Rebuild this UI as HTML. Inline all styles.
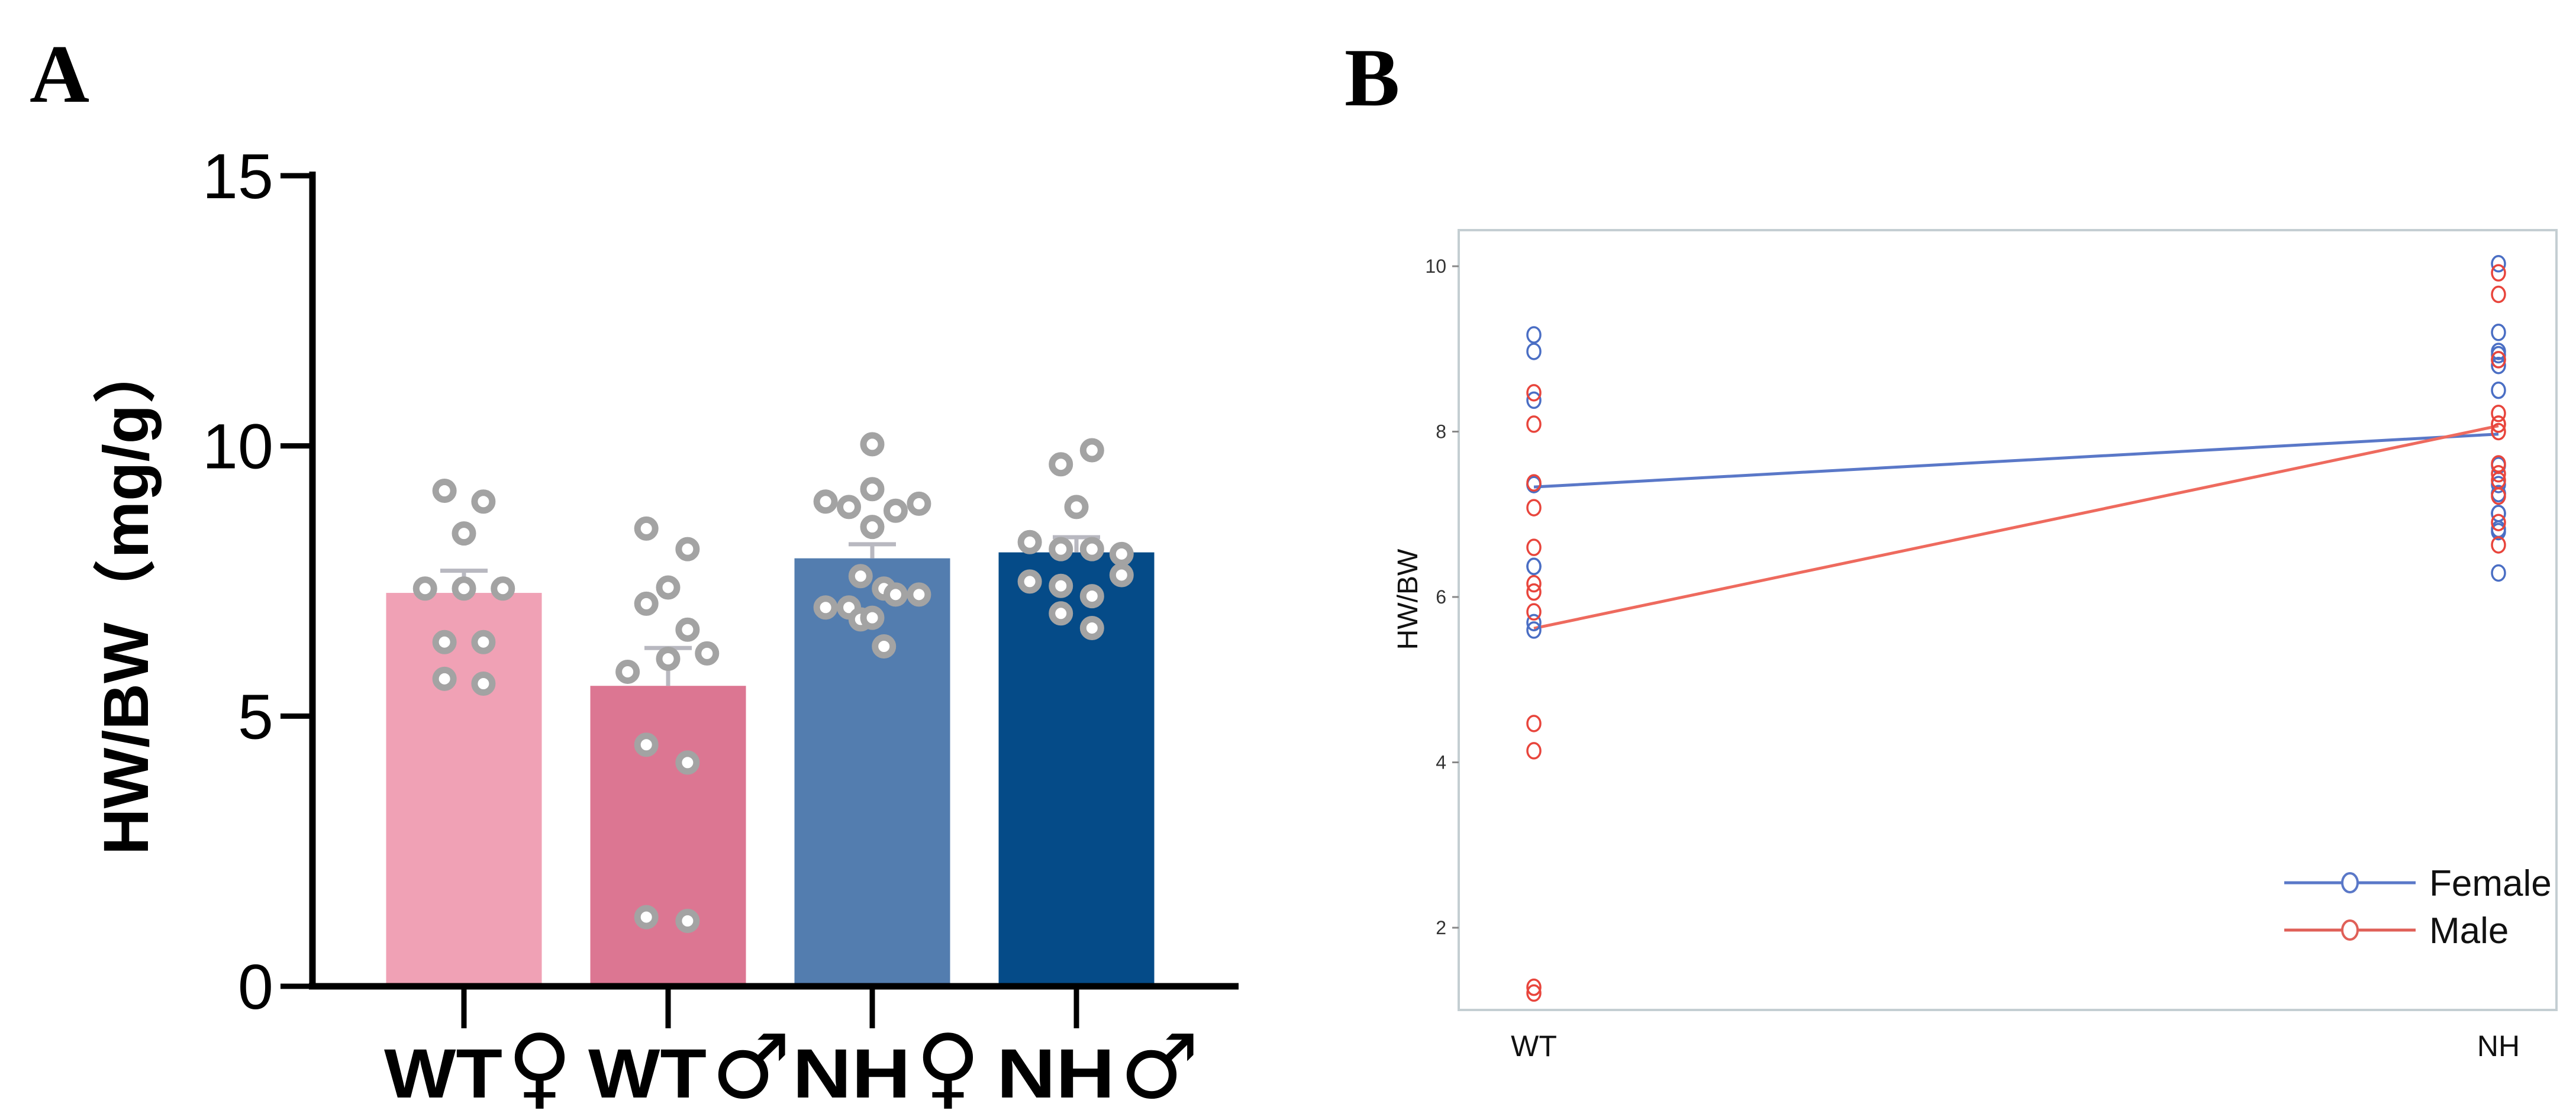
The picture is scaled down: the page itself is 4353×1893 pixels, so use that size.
<!DOCTYPE html>
<html><head><meta charset="utf-8"><style>html,body{margin:0;padding:0;background:#fff}svg{display:block}</style></head>
<body>
<svg id="fig" width="4353" height="1893" viewBox="0 0 4353 1893" xmlns="http://www.w3.org/2000/svg">
<text x="50" y="172" font-family="Liberation Serif, serif" font-weight="bold" font-size="140">A</text>
<text x="2272" y="178" font-family="Liberation Serif, serif" font-weight="bold" font-size="140">B</text>
<g id="pa"></g>
<g id="pb"></g>
</svg>
<script>
const barCats = ["WT","WT","NH","NH"];
const barSex = ["♀","♂","♀","♂"];
const barMeans = [7.28, 5.56, 7.92, 8.03];
const barSem = [0.41, 0.70, 0.26, 0.28];
const yTicksA = [0,5,10,15];
const dotsWTF = [9.17,8.97,8.38,7.36,7.36,7.36,6.37,6.37,5.69,5.6];
const dotsWTM = [8.47,8.09,7.38,7.08,6.6,5.82,6.16,6.06,4.47,4.14,1.28,1.21];
const dotsNHF = [10.03,9.2,8.97,8.87,8.8,8.93,8.5,7.59,7.36,7.25,7.25,7.01,7.01,6.79,6.82,6.29];
const dotsNHM = [9.92,9.66,8.87,8.22,8.09,8.09,8.0,7.61,7.49,7.41,7.22,6.9,6.63];
// horizontal jitter (fraction of bar half-width) – layout, not data
const jit = [
 [-0.25,0.25,0,-0.5,0,0.5,-0.25,0.25,-0.25,0.25],
 [-0.28,0.25,0,-0.28,0.25,-0.52,0.5,0,-0.28,0.25,-0.28,0.25],
 [0,0,-0.6,-0.3,0.3,0.6,0,-0.15,0.15,0.3,0.6,-0.6,-0.3,-0.15,0,0.15],
 [0.2,-0.2,0,-0.6,-0.2,0.2,0.58,0.58,-0.6,-0.2,0.2,-0.2,0.2]
];
const allDots = [dotsWTF, dotsWTM, dotsNHF, dotsNHM];
const barColors = ["#f0a1b5","#dc7692","#537daf","#054b88"];

const NS="http://www.w3.org/2000/svg";
function mk(parent, tag, attrs, txt){const e=document.createElementNS(NS,tag);for(const k in attrs)e.setAttribute(k,attrs[k]);if(txt!==undefined)e.textContent=txt;parent.appendChild(e);return e;}

// Panel A
const pa=document.getElementById('pa');
const ay=v=>1667-(v/15)*(1667-297);
const ax=i=>784+i*345;
const bw=263;
barCats.forEach((c,i)=>{
  const r=mk(pa,'rect',{x:ax(i)-bw/2,y:ay(barMeans[i]),width:bw,height:ay(0)-ay(barMeans[i]),fill:barColors[i]});
  
  
  const e=mk(pa,'path',{d:`M${ax(i)} ${ay(barMeans[i])}V${ay(barMeans[i]+barSem[i])}M${ax(i)-40} ${ay(barMeans[i]+barSem[i])}H${ax(i)+40}`,stroke:'#b8b8c0','stroke-width':7,fill:'none'});
  
  
});
allDots.forEach((arr,i)=>{
  arr.forEach((v,j)=>{
    const d=mk(pa,'circle',{cx:ax(i)+jit[i][j]*bw/2,cy:ay(v),r:15,fill:'#fff',stroke:'#a3a3a3','stroke-width':11});
    
    
  });
});
mk(pa,'path',{d:'M528 290V1672M522 1667H2093',stroke:'#000','stroke-width':11,fill:'none'});
yTicksA.forEach(t=>{
  mk(pa,'line',{x1:474,x2:528,y1:ay(t),y2:ay(t),stroke:'#000','stroke-width':9});
  const l=mk(pa,'text',{x:462,y:ay(t)+38,'text-anchor':'end','font-family':'Liberation Sans, sans-serif','font-size':108},t);
  
  
});
barCats.forEach((c,i)=>{
  mk(pa,'line',{x1:ax(i),x2:ax(i),y1:1667,y2:1738,stroke:'#000','stroke-width':9});
  const l=mk(pa,'text',{x:ax(i)-135,y:1855,'font-family':'Liberation Sans, DejaVu Sans, sans-serif','font-weight':'bold','font-size':118});
  
  
  mk(l,'tspan',{textLength:200,lengthAdjust:'spacingAndGlyphs'},c);
  mk(l,'tspan',{'font-size':150,'font-weight':'normal',dx:8,'font-family':'DejaVu Sans, sans-serif'},barSex[i]);
});
const yt=mk(pa,'text',{x:0,y:0,transform:'translate(250,1010) rotate(-90)','text-anchor':'middle','font-family':'Liberation Sans, Noto Sans CJK SC, sans-serif','font-weight':'bold','font-size':108,textLength:870,lengthAdjust:'spacingAndGlyphs'},'HW/BW（mg/g）');



// Panel B
const groupsB=["WT","NH"];
const femaleMeans=[7.33,7.97];
const maleMeans=[5.62,8.07];
const yTicksB=[2,4,6,8,10];
const femWT=dotsWTF, femNH=dotsNHF, malWT=dotsWTM, malNH=dotsNHM;
const pb=document.getElementById('pb');
const by=v=>450+(10-v)*139.75;
const bx=i=>[2592,4222][i];
const fr=mk(pb,'rect',{x:2465,y:389,width:1855,height:1318,fill:'none',stroke:'#c4ced2','stroke-width':4});


yTicksB.forEach(t=>{
  mk(pb,'line',{x1:2454,x2:2465,y1:by(t),y2:by(t),stroke:'#888','stroke-width':3});
  const l=mk(pb,'text',{x:2444,y:by(t)+11,'text-anchor':'end','font-family':'Liberation Sans, sans-serif','font-size':32,fill:'#333'},t);
  
  
});
groupsB.forEach((g,i)=>{
  const l=mk(pb,'text',{x:bx(i),y:1785,'text-anchor':'middle','font-family':'Liberation Sans, sans-serif','font-size':50,fill:'#111'},g);
  
  
});
const ybt=mk(pb,'text',{x:0,y:0,transform:'translate(2395,1013) rotate(-90)','text-anchor':'middle','font-family':'Liberation Sans, sans-serif','font-size':48,fill:'#111'},'HW/BW');


const fl=mk(pb,'line',{x1:bx(0),y1:by(femaleMeans[0]),x2:bx(1),y2:by(femaleMeans[1]),stroke:'#5a78c8','stroke-width':5});


const ml=mk(pb,'line',{x1:bx(0),y1:by(maleMeans[0]),x2:bx(1),y2:by(maleMeans[1]),stroke:'#ee6a5e','stroke-width':5});


[[femWT,0,'#4a6ec4'],[femNH,1,'#4a6ec4'],[malWT,0,'#e8453c'],[malNH,1,'#e8453c']].forEach(([arr,i,col])=>{
  arr.forEach(v=>{
    const c=mk(pb,'ellipse',{cx:bx(i),cy:by(v),rx:11,ry:13,fill:'none',stroke:col,'stroke-width':3.5});
    
    
  });
});
[['Female','#5a78c8',1492],['Male','#e06058',1572]].forEach(([n,col,y])=>{
  const g=mk(pb,'g',{});
  
  
  mk(g,'line',{x1:3860,x2:4082,y1:y,y2:y,stroke:col,'stroke-width':5});
  mk(g,'ellipse',{cx:3971,cy:y,rx:13,ry:16,fill:'#fff',stroke:col,'stroke-width':4});
  mk(g,'text',{x:4105,y:y+22,'font-family':'Liberation Sans, sans-serif','font-size':62,fill:'#111'},n);
});
</script>
</body></html>
